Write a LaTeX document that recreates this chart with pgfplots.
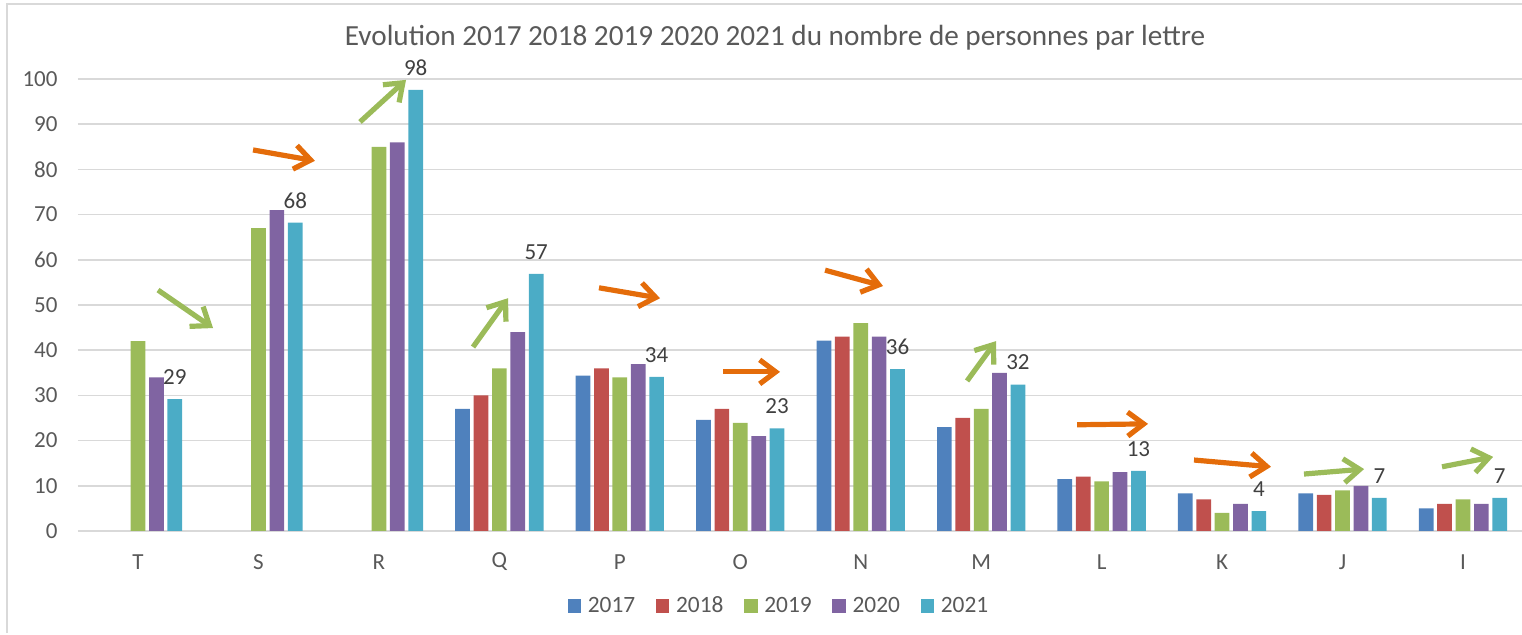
\documentclass[border=0pt]{standalone}
\usepackage{fontspec}
\setmainfont{Carlito}
\usepackage{pgfplots}
\pgfplotsset{compat=1.18}
\usetikzlibrary{arrows.meta}
\definecolor{c17}{HTML}{4F81BD}
\definecolor{c18}{HTML}{C0504D}
\definecolor{c19}{HTML}{9BBB59}
\definecolor{c20}{HTML}{8064A2}
\definecolor{c21}{HTML}{4BACC6}
\definecolor{arrOr}{HTML}{E46C0A}
\definecolor{arrGr}{HTML}{9BBB59}
\definecolor{txt}{HTML}{595959}
\definecolor{lbl}{HTML}{404040}
\definecolor{gridc}{HTML}{D9D9D9}
\begin{document}
\begin{tikzpicture}
\path[use as bounding box] (0,0) rectangle (761pt,317.5pt);
\draw[gridc, line width=1pt] (3.5pt,1pt) -- (3.5pt,315.5pt) -- (761pt,315.5pt);
\begin{axis}[
  at={(38.9pt,52pt)}, anchor=south west, scale only axis,
  width=722.1pt, height=226pt,
  xmin=-0.5, xmax=11.49, ymin=0, ymax=100,
  ytick={0,10,...,100}, xtick={0,...,11},
  xticklabels={T,S,R,Q,P,O,N,M,L,K,J,I},
  ymajorgrids, grid style={gridc, line width=0.75pt},
  axis line style={draw=none}, major tick length=0pt,
  tick label style={font=\fontsize{11.5}{13}\selectfont, text=txt},
  yticklabel style={xshift=-6.6pt},
  xticklabel style={anchor=center, yshift=-15.5pt},
  /pgf/number format/assume math mode=true,
  ybar=1.85pt, bar width=7.35pt,
  clip=false,
  legend columns=5,
  legend style={at={(0.4848,-0.166)}, anchor=center, draw=none, fill=none,
    font=\fontsize{11.7}{13}\selectfont, text=txt,
    nodes={inner sep=0pt},
    /tikz/every odd column/.append style={column sep=3.3pt},
    /tikz/every even column/.append style={column sep=10.3pt}},
  legend image code/.code={\fill[#1] (0pt,-3.4pt) rectangle (6.8pt,3.4pt);},
]
% 2017
\addplot[fill=c17, draw=none] coordinates {(3,27) (4,34.4) (5,24.6) (6,42.1) (7,23) (8,11.5) (9,8.3) (10,8.3) (11,5)};
% 2018
\addplot[fill=c18, draw=none] coordinates {(3,30) (4,36) (5,27) (6,43) (7,25) (8,12) (9,7) (10,8) (11,6)};
% 2019
\addplot[fill=c19, draw=none] coordinates {(0,42) (1,67) (2,85) (3,36) (4,34) (5,23.9) (6,46) (7,27) (8,11) (9,4) (10,9) (11,7)};
% 2020
\addplot[fill=c20, draw=none] coordinates {(0,34) (1,71) (2,86) (3,44) (4,36.9) (5,21) (6,43) (7,35) (8,13) (9,6) (10,10) (11,6)};
% 2021
\addplot[fill=c21, draw=none, point meta=y,
  nodes near coords={\pgfmathprintnumber[fixed,precision=0]{\pgfplotspointmeta}},
  every node near coord/.append style={anchor=center, yshift=11pt, text=lbl, font=\fontsize{11.5}{13}\selectfont}]
  coordinates {(0,29.2) (1,68.2) (2,97.6) (3,56.9) (4,34.1) (5,22.7) (6,35.8) (7,32.4) (8,13.3) (9,4.4) (10,7.3) (11,7.3)};
\legend{2017,2018,2019,2020,2021}
% arrows (annotations)
\tikzset{arr/.style={line width=2.6pt, -{Straight Barb[length=8pt,width=12pt]}}}
\draw[arr, arrGr] (axis cs:0.166,53.3) -- (axis cs:0.623,44.9);
\draw[arr, arrOr] (axis cs:0.955,84.3) -- (axis cs:1.469,81.9);
\draw[arr, arrGr] (axis cs:1.843,90.5) -- (axis cs:2.225,99.8);
\draw[arr, arrGr] (axis cs:2.781,40.7) -- (axis cs:3.072,51.5);
\draw[arr, arrOr] (axis cs:3.827,53.8) -- (axis cs:4.334,51.5);
\draw[arr, arrOr] (axis cs:4.857,35.2) -- (axis cs:5.330,35.2);
\draw[arr, arrOr] (axis cs:5.704,57.7) -- (axis cs:6.185,54.2);
\draw[arr, arrGr] (axis cs:6.883,33.2) -- (axis cs:7.123,42.0);
\draw[arr, arrOr] (axis cs:7.796,23.5) -- (axis cs:8.385,23.7);
\draw[arr, arrOr] (axis cs:8.767,15.7) -- (axis cs:9.406,14.2);
\draw[arr, arrGr] (axis cs:9.680,12.6) -- (axis cs:10.179,13.7);
\draw[arr, arrGr] (axis cs:10.826,14.2) -- (axis cs:11.250,16.4);
\end{axis}
\node[text=txt, font=\fontsize{14.6}{16}\selectfont] at (387.5pt,298.5pt) {Evolution 2017 2018 2019 2020 2021 du nombre de personnes par lettre};
\end{tikzpicture}
\end{document}
